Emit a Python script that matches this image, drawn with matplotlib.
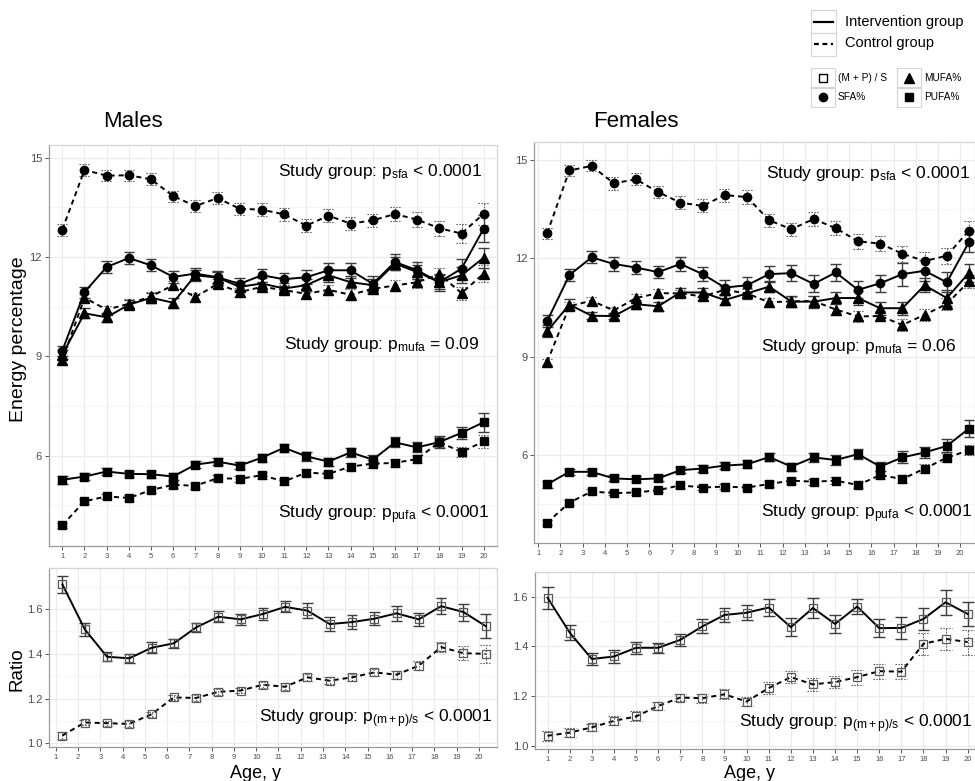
import numpy as np
import matplotlib
matplotlib.use("Agg")
import matplotlib.pyplot as plt
from matplotlib.lines import Line2D
from matplotlib.patches import Rectangle

plt.rcParams['font.family'] = ['Liberation Sans', 'DejaVu Sans']
plt.rcParams['mathtext.fontset'] = 'custom'
plt.rcParams['mathtext.rm'] = 'Liberation Sans'
plt.rcParams['mathtext.it'] = 'Liberation Sans:italic'

ages = list(range(1, 21))

# energy percentage, males
males_sfa_int = [9.17, 10.94, 11.70, 11.97, 11.75, 11.40, 11.50, 11.39, 11.19, 11.45,
                 11.33, 11.39, 11.60, 11.60, 11.19, 11.85, 11.60, 11.24, 11.65, 12.86]
males_sfa_ctl = [12.83, 14.63, 14.46, 14.47, 14.35, 13.84, 13.54, 13.78, 13.46, 13.43,
                 13.29, 12.95, 13.25, 13.01, 13.11, 13.30, 13.13, 12.87, 12.71, 13.31]
males_mufa_int = [9.05, 10.30, 10.18, 10.56, 10.77, 10.62, 11.45, 11.38, 11.10, 11.20,
                  11.05, 11.15, 11.45, 11.24, 11.15, 11.80, 11.55, 11.24, 11.45, 11.98]
males_mufa_ctl = [8.89, 10.77, 10.41, 10.59, 10.81, 11.15, 10.79, 11.19, 10.94, 11.10,
                  11.00, 10.89, 11.01, 10.86, 11.04, 11.14, 11.24, 11.48, 10.91, 11.50]
males_pufa_int = [5.27, 5.37, 5.52, 5.45, 5.44, 5.37, 5.73, 5.82, 5.70, 5.94,
                  6.24, 5.98, 5.82, 6.10, 5.88, 6.40, 6.25, 6.41, 6.69, 7.01]
males_pufa_ctl = [3.90, 4.62, 4.77, 4.72, 4.96, 5.12, 5.09, 5.32, 5.30, 5.41,
                  5.22, 5.49, 5.45, 5.67, 5.76, 5.78, 5.90, 6.41, 6.11, 6.43]
males_ratio_int = [1.71, 1.51, 1.387, 1.38, 1.427, 1.447, 1.518, 1.566, 1.554, 1.578,
                   1.61, 1.593, 1.533, 1.542, 1.557, 1.581, 1.554, 1.613, 1.587, 1.524]
males_ratio_ctl = [1.035, 1.093, 1.09, 1.087, 1.13, 1.205, 1.203, 1.23, 1.236, 1.262,
                   1.253, 1.295, 1.28, 1.295, 1.317, 1.307, 1.347, 1.43, 1.403, 1.400]

males_sfa_int_se = [0.15, 0.17, 0.17, 0.18, 0.18, 0.17, 0.18, 0.19, 0.19, 0.20,
                    0.20, 0.21, 0.22, 0.22, 0.23, 0.25, 0.25, 0.26, 0.30, 0.42]
males_sfa_ctl_se = [0.18, 0.17, 0.17, 0.17, 0.18, 0.17, 0.18, 0.19, 0.18, 0.19,
                    0.19, 0.20, 0.20, 0.20, 0.20, 0.21, 0.22, 0.22, 0.28, 0.33]
males_mufa_int_se = [0.13, 0.15, 0.14, 0.14, 0.15, 0.15, 0.16, 0.16, 0.16, 0.17,
                     0.18, 0.18, 0.19, 0.19, 0.20, 0.20, 0.21, 0.22, 0.24, 0.30]
males_mufa_ctl_se = [0.12, 0.12, 0.12, 0.13, 0.13, 0.13, 0.13, 0.14, 0.14, 0.14,
                     0.15, 0.15, 0.16, 0.16, 0.16, 0.17, 0.17, 0.18, 0.20, 0.25]
males_pufa_int_se = [0.13, 0.10, 0.10, 0.10, 0.10, 0.10, 0.10, 0.11, 0.11, 0.12,
                     0.12, 0.13, 0.12, 0.14, 0.14, 0.15, 0.15, 0.17, 0.19, 0.29]
males_pufa_ctl_se = [0.08, 0.08, 0.08, 0.08, 0.08, 0.09, 0.09, 0.09, 0.10, 0.10,
                     0.10, 0.10, 0.10, 0.11, 0.12, 0.12, 0.13, 0.14, 0.15, 0.20]
males_ratio_int_se = [0.040, 0.030, 0.020, 0.020, 0.025, 0.020, 0.022, 0.025, 0.025, 0.028,
                      0.025, 0.033, 0.030, 0.032, 0.030, 0.035, 0.030, 0.035, 0.038, 0.055]
males_ratio_ctl_se = [0.015, 0.012, 0.012, 0.012, 0.012, 0.012, 0.012, 0.012, 0.013, 0.014,
                      0.015, 0.016, 0.016, 0.017, 0.017, 0.018, 0.020, 0.022, 0.030, 0.040]

# energy percentage, females
females_sfa_int = [10.09, 11.49, 12.03, 11.83, 11.72, 11.58, 11.83, 11.52, 11.11, 11.18,
                   11.52, 11.55, 11.22, 11.57, 11.04, 11.24, 11.52, 11.62, 11.27, 12.50]
females_sfa_ctl = [12.77, 14.68, 14.82, 14.29, 14.41, 14.02, 13.70, 13.60, 13.93, 13.87,
                   13.16, 12.89, 13.20, 12.92, 12.52, 12.45, 12.14, 11.92, 12.08, 12.85]
females_mufa_int = [9.78, 10.59, 10.25, 10.24, 10.60, 10.54, 10.96, 10.96, 10.73, 10.93,
                    11.14, 10.68, 10.68, 10.79, 10.79, 10.48, 10.48, 11.18, 10.79, 11.56]
females_mufa_ctl = [8.84, 10.54, 10.71, 10.41, 10.79, 10.94, 10.93, 10.84, 11.04, 10.93,
                    10.66, 10.69, 10.70, 10.44, 10.23, 10.24, 9.97, 10.28, 10.61, 11.30]
females_pufa_int = [5.11, 5.49, 5.49, 5.29, 5.26, 5.29, 5.54, 5.59, 5.68, 5.72,
                    5.94, 5.65, 5.93, 5.85, 6.03, 5.65, 5.93, 6.08, 6.28, 6.81]
females_pufa_ctl = [3.94, 4.55, 4.89, 4.84, 4.86, 4.93, 5.08, 5.01, 5.04, 5.01,
                    5.12, 5.22, 5.19, 5.22, 5.09, 5.39, 5.27, 5.59, 5.92, 6.15]
females_ratio_int = [1.595, 1.455, 1.349, 1.359, 1.394, 1.394, 1.426, 1.48, 1.526, 1.535,
                     1.556, 1.477, 1.554, 1.49, 1.56, 1.473, 1.474, 1.51, 1.577, 1.53]
females_ratio_ctl = [1.04, 1.053, 1.074, 1.10, 1.118, 1.16, 1.194, 1.191, 1.207, 1.178,
                     1.232, 1.276, 1.247, 1.256, 1.276, 1.30, 1.298, 1.41, 1.43, 1.417]

females_sfa_int_se = [0.18, 0.18, 0.18, 0.20, 0.20, 0.18, 0.20, 0.22, 0.22, 0.24,
                      0.25, 0.25, 0.26, 0.26, 0.26, 0.26, 0.35, 0.32, 0.30, 0.32]
females_sfa_ctl_se = [0.17, 0.17, 0.17, 0.20, 0.18, 0.18, 0.20, 0.20, 0.20, 0.20,
                      0.20, 0.20, 0.22, 0.22, 0.22, 0.22, 0.24, 0.26, 0.25, 0.28]
females_mufa_int_se = [0.18, 0.16, 0.10, 0.10, 0.14, 0.14, 0.14, 0.15, 0.14, 0.16,
                       0.16, 0.16, 0.18, 0.18, 0.20, 0.20, 0.20, 0.22, 0.24, 0.27]
females_mufa_ctl_se = [0.10, 0.12, 0.12, 0.12, 0.12, 0.12, 0.12, 0.12, 0.12, 0.14,
                       0.14, 0.14, 0.15, 0.16, 0.16, 0.16, 0.17, 0.18, 0.18, 0.20]
females_pufa_int_se = [0.10, 0.09, 0.09, 0.09, 0.09, 0.09, 0.10, 0.10, 0.11, 0.12,
                       0.13, 0.12, 0.13, 0.14, 0.15, 0.15, 0.18, 0.18, 0.20, 0.25]
females_pufa_ctl_se = [0.07, 0.08, 0.07, 0.07, 0.07, 0.07, 0.07, 0.07, 0.08, 0.08,
                       0.09, 0.09, 0.09, 0.10, 0.10, 0.11, 0.12, 0.13, 0.14, 0.15]
females_ratio_int_se = [0.045, 0.030, 0.025, 0.025, 0.025, 0.020, 0.025, 0.028, 0.030, 0.030,
                        0.035, 0.035, 0.040, 0.035, 0.030, 0.035, 0.045, 0.045, 0.050, 0.050]
females_ratio_ctl_se = [0.020, 0.018, 0.015, 0.018, 0.020, 0.015, 0.015, 0.018, 0.020, 0.020,
                        0.025, 0.025, 0.025, 0.025, 0.030, 0.030, 0.030, 0.045, 0.045, 0.050]

W, H = 975, 781
fig = plt.figure(figsize=(W / 100, H / 100), dpi=100)


def fx(px):
    return px / W


def fy(py):
    return 1 - py / H


def panel(left, top, right, bottom):
    return fig.add_axes([fx(left), fy(bottom), fx(right) - fx(left), fy(top) - fy(bottom)])


def style(ax, xlim, ylim, yticks, yminor, ylabels):
    ax.set_xlim(*xlim)
    ax.set_ylim(*ylim)
    ax.set_xticks(ages)
    ax.set_xticklabels([str(a) for a in ages])
    ax.set_yticks(yticks)
    ax.set_yticks(yminor, minor=True)
    ax.set_yticklabels(ylabels)
    ax.grid(True, which='major', color='#ebebeb', lw=0.8, zorder=0)
    ax.grid(True, which='minor', axis='y', color='#f5f5f5', lw=0.6, zorder=0)
    ax.set_axisbelow(True)
    ax.tick_params(axis='x', labelsize=5.5, colors='#555555', length=3, width=0.7,
                   labelcolor='#4d4d4d', pad=2)
    ax.tick_params(axis='y', labelsize=8, colors='#555555', length=3, width=0.7,
                   labelcolor='#4d4d4d', pad=2)
    ax.tick_params(which='minor', length=0)
    for side in ('top', 'right'):
        ax.spines[side].set_color('#d4d4d4')
    for side in ('left', 'bottom'):
        ax.spines[side].set_color('#9a9a9a')
    for s in ax.spines.values():
        s.set_linewidth(0.9)


def series(ax, y, se, shift, marker, dashed, ms=6, hollow=False, cap=0.24):
    x = np.array(ages, dtype=float) + shift
    y = np.asarray(y)
    se = np.asarray(se)
    if dashed:
        bar_ls, bar_lw, bar_c = (0, (1.3, 1.3)), 0.8, '#555555'
        line_ls = (0, (2.6, 2.0))
    else:
        bar_ls, bar_lw, bar_c = '-', 1.0, '#3c3c3c'
        line_ls = '-'
    ax.vlines(x, y - se, y + se, colors=bar_c, linestyles=bar_ls, lw=bar_lw, zorder=2)
    ax.hlines(np.concatenate([y - se, y + se]), np.concatenate([x - cap, x - cap]),
              np.concatenate([x + cap, x + cap]), colors=bar_c, linestyles=bar_ls,
              lw=bar_lw, zorder=2)
    if hollow:
        ax.plot(x, y, linestyle=line_ls, color='black', lw=1.4, zorder=3)
        ax.plot(x, y, linestyle='none', marker=marker, ms=ms, mfc='none',
                mec='#5a5a5a', mew=0.9, zorder=4)
    else:
        ax.plot(x, y, linestyle=line_ls, color='black', lw=1.4, marker=marker, ms=ms,
                mfc='black', mec='black', zorder=3)


energy_ticks = [6, 9, 12, 15]
energy_minor = [4.5, 7.5, 10.5, 13.5]
ratio_ticks = [1.0, 1.2, 1.4, 1.6]
ratio_minor = [1.1, 1.3, 1.5, 1.7]

ann_kw = dict(fontsize=12.5, ha='right', va='center', color='black')

# Males, energy percentage
ax = panel(49, 145, 497, 545.7)
style(ax, (0.4, 20.6), (3.28, 15.385), energy_ticks, energy_minor, [str(t) for t in energy_ticks])
series(ax, males_sfa_ctl, males_sfa_ctl_se, 0, 'o', True)
series(ax, males_mufa_ctl, males_mufa_ctl_se, 0, '^', True, ms=6.5)
series(ax, males_pufa_ctl, males_pufa_ctl_se, 0, 's', True, ms=5.5)
series(ax, males_sfa_int, males_sfa_int_se, 0, 'o', False)
series(ax, males_mufa_int, males_mufa_int_se, 0, '^', False, ms=6.5)
series(ax, males_pufa_int, males_pufa_int_se, 0, 's', False, ms=5.5)
ax.text(0.967, 0.933, r"Study group: p$_{\mathrm{sfa}}$ < 0.0001", transform=ax.transAxes, **ann_kw)
ax.text(0.961, 0.501, r"Study group: p$_{\mathrm{mufa}}$ = 0.09", transform=ax.transAxes, **ann_kw)
ax.text(0.984, 0.077, r"Study group: p$_{\mathrm{pufa}}$ < 0.0001", transform=ax.transAxes, **ann_kw)

# Males, ratio
ax = panel(49.3, 567.7, 497, 746.7)
style(ax, (0.71, 20.81), (0.985, 1.785), ratio_ticks, ratio_minor, ['%.1f' % t for t in ratio_ticks])
series(ax, males_ratio_ctl, males_ratio_ctl_se, 0.3, 's', True, ms=6, hollow=True)
series(ax, males_ratio_int, males_ratio_int_se, 0.3, 's', False, ms=6, hollow=True)
ax.text(0.989, 0.159, r"Study group: p$_{\mathrm{(m+p)/s}}$ < 0.0001", transform=ax.transAxes, **ann_kw)

# Females, energy percentage
ax = panel(534.3, 142.3, 975, 543.3)
style(ax, (0.82, 20.67), (3.31, 15.54), energy_ticks, energy_minor, [str(t) for t in energy_ticks])
series(ax, females_sfa_ctl, females_sfa_ctl_se, 0.4, 'o', True)
series(ax, females_mufa_ctl, females_mufa_ctl_se, 0.4, '^', True, ms=6.5)
series(ax, females_pufa_ctl, females_pufa_ctl_se, 0.4, 's', True, ms=5.5)
series(ax, females_sfa_int, females_sfa_int_se, 0.4, 'o', False)
series(ax, females_mufa_int, females_mufa_int_se, 0.4, '^', False, ms=6.5)
series(ax, females_pufa_int, females_pufa_int_se, 0.4, 's', False, ms=5.5)
ax.text(0.989, 0.923, r"Study group: p$_{\mathrm{sfa}}$ < 0.0001", transform=ax.transAxes, **ann_kw)
ax.text(0.958, 0.490, r"Study group: p$_{\mathrm{mufa}}$ = 0.06", transform=ax.transAxes, **ann_kw)
ax.text(0.995, 0.075, r"Study group: p$_{\mathrm{pufa}}$ < 0.0001", transform=ax.transAxes, **ann_kw)

# Females, ratio
ax = panel(535, 571.7, 975, 749)
style(ax, (0.43, 20.33), (0.987, 1.674), ratio_ticks, ratio_minor, ['%.1f' % t for t in ratio_ticks])
series(ax, females_ratio_ctl, females_ratio_ctl_se, 0, 's', True, ms=6, hollow=True, cap=0.27)
series(ax, females_ratio_int, females_ratio_int_se, 0, 's', False, ms=6, hollow=True, cap=0.27)
ax.text(0.995, 0.145, r"Study group: p$_{\mathrm{(m+p)/s}}$ < 0.0001", transform=ax.transAxes, **ann_kw)

# titles and axis labels
fig.text(fx(133), fy(127), 'Males', fontsize=16, ha='center', va='baseline')
fig.text(fx(636), fy(127), 'Females', fontsize=16, ha='center', va='baseline')
fig.text(fx(19), fy(339), 'Energy percentage', fontsize=14, rotation=90, ha='center', va='center')
fig.text(fx(17), fy(669), 'Ratio', fontsize=13.5, rotation=90, ha='center', va='center')
fig.text(fx(255), fy(773), 'Age, y', fontsize=13, ha='center', va='center')
fig.text(fx(749), fy(773), 'Age, y', fontsize=13, ha='center', va='center')

# legend: line types
def key_box(x0, y0, x1, y1):
    fig.add_artist(Rectangle((fx(x0), fy(y1)), fx(x1) - fx(x0), fy(y0) - fy(y1),
                             transform=fig.transFigure, fill=False, ec='#d6d6d6', lw=0.8))


key_box(811, 10, 836, 33)
key_box(811, 33, 836, 56)
fig.add_artist(Line2D([fx(814), fx(833)], [fy(21.7), fy(21.7)], transform=fig.transFigure,
                      color='black', lw=1.6))
fig.add_artist(Line2D([fx(814), fx(833)], [fy(43.5), fy(43.5)], transform=fig.transFigure,
                      color='black', lw=1.6, linestyle=(0, (2.2, 1.6))))
fig.text(fx(845), fy(21.7), 'Intervention group', fontsize=10.5, va='center')
fig.text(fx(845), fy(43.5), 'Control group', fontsize=10.5, va='center')

# legend: nutrient markers
marker_keys = [('s', True, 823, 78, '(M + P) / S'), ('^', False, 909, 78, 'MUFA%'),
               ('o', False, 823, 97, 'SFA%'), ('s', False, 909, 97, 'PUFA%')]
for m, hollow, kx, ky, lab in marker_keys:
    key_box(kx - 12, ky - 10, kx + 12, ky + 10)
    fig.add_artist(Line2D([fx(kx)], [fy(ky)], transform=fig.transFigure, linestyle='none',
                          marker=m, ms=6.5 if m == '^' else 6,
                          mfc='none' if hollow else 'black',
                          mec='black', mew=1.0))
    fig.text(fx(kx + 15), fy(ky), lab, fontsize=7.3, va='center')

fig.savefig('out.png', dpi=100)
